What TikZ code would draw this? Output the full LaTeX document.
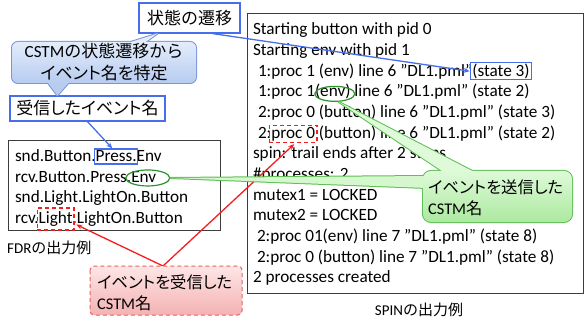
\documentclass[tikz,border=0pt]{standalone}
\usepackage{fontspec}
\setmainfont{Carlito}
\newfontfamily\jp[RawFeature=+palt]{Noto Sans CJK JP}
\newfontfamily\jpf{Noto Sans CJK JP}
\usetikzlibrary{arrows.meta,calc,fit,shapes.geometric}
\pgfdeclarelayer{cbg}
\pgfdeclarelayer{ctop}
\pgfsetlayers{main,cbg,ctop}
\definecolor{bline}{RGB}{70,110,235}
\definecolor{bcB}{RGB}{120,150,215}
\definecolor{bcT}{RGB}{226,236,251}
\definecolor{bcBot}{RGB}{184,204,240}
\definecolor{gline}{RGB}{45,145,45}
\definecolor{gcB}{RGB}{95,190,85}
\definecolor{gcT}{RGB}{222,250,216}
\definecolor{gcBot}{RGB}{172,233,160}
\definecolor{rline}{RGB}{245,30,30}
\definecolor{rcB}{RGB}{225,100,100}
\definecolor{rcT}{RGB}{253,230,230}
\definecolor{rcBot}{RGB}{245,178,178}
\definecolor{frame}{RGB}{60,60,60}
\begin{document}
\begin{tikzpicture}[x=1pt,y=-1pt,
  txt/.style={font=\fontsize{17.2}{20.65}\selectfont, inner sep=0pt, outer sep=0pt, anchor=base west},
  jbox/.style={draw=bline, line width=1.2pt, fill=white, font=\fontsize{17}{20}\selectfont, inner sep=0pt},
  frm/.style={draw=frame, line width=0.8pt, inner sep=0pt},
  geo/.style={inner sep=0pt, outer sep=0pt},
  bhl/.style={draw=bline, line width=1.3pt},
  gell/.style={ellipse, draw=gline, line width=1.2pt, inner sep=0pt},
  rhl/.style={draw=rline, line width=1.3pt, dash pattern=on 4pt off 3pt},
  barrow/.style={draw=bline, line width=1.3pt, -{Stealth[length=6pt,width=5pt]}},
  rarrow/.style={draw=rline, line width=1.3pt, -{Stealth[length=6pt,width=5pt]}},
  ctext/.style={font=\fontsize{16.3}{21}\selectfont, inner sep=0pt, align=left},
  lbl/.style={font=\fontsize{15}{18}\selectfont, inner sep=0pt}
]
\useasboundingbox (0,0) rectangle (585,320);

% frames
\node[frm, minimum width=212pt, minimum height=90pt] (fdr) at (114,185) {};
\node[frm, minimum width=336pt, minimum height=280pt] (spin) at (415,153) {};

% labelled boxes
\node[jbox, minimum width=101pt, minimum height=30pt] (stbox) at (189.5,18) {\jpf 状態の遷移};
\node[jbox, minimum width=155pt, minimum height=25pt] (rbox) at (87.5,108.5) {\jp 受信したイベント名};

% FDR text
\node[txt] (f1a) at (15,162) {snd.Button.};
\node[txt] (f1b) at (f1a.base east) {Press.};
\node[txt] (f1c) at (f1b.base east) {Env};
\node[txt] (f2a) at (15,182.5) {rcv.Button.Press.};
\node[txt] (f2b) at (f2a.base east) {Env};
\node[txt] (f3) at (15,203) {snd.Light.LightOn.Button};
\node[txt] (f4a) at (15,223.5) {rcv.};
\node[txt] (f4b) at (f4a.base east) {Light};
\node[txt] (f4c) at (f4b.base east) {.LightOn.Button};

% SPIN text
\node[txt] (s0) at (253,35) {Starting button with pid 0};
\node[txt] (s1) at (253,55.65) {Starting env with pid 1};
\node[txt] (s2a) at (258,76.3) {1:proc 1 (env) line 6 ”DL1.pml"\ };
\node[txt] (s2b) at (s2a.base east) {(state 3)};
\node[txt] (s3a) at (258,96.95) {1:proc 1\ };
\node[txt] (s3b) at (s3a.base east) {(env)};
\node[txt] (s3c) at (s3b.base east) {\ line 6 ”DL1.pml" (state 2)};
\node[txt] (s4) at (258,117.6) {2:proc 0 (button) line 6 ”DL1.pml" (state 3)};
\node[txt] (s5a) at (258,138.25) {2:};
\node[txt] (s5b) at (s5a.base east) {proc 0};
\node[txt] (s5c) at (s5b.base east) {\ (button) line 6 ”DL1.pml" (state 2)};
\node[txt] (s6) at (253,158.9) {spin: trail ends after 2 steps};
\node[txt] (s7) at (253,179.55) {\#processes: 2};
\node[txt] (s8) at (253,200.2) {mutex1 = LOCKED};
\node[txt] (s9) at (253,220.85) {mutex2 = LOCKED};
\node[txt] (s10) at (257,241.5) {2:proc 01(env) line 7 ”DL1.pml" (state 8)};
\node[txt] (s11) at (257,262.15) {2:proc 0 (button) line 7 ”DL1.pml" (state 8)};
\node[txt] (s12) at (253,282.8) {2 processes created};

% captions
\node[lbl, anchor=west] (fdrl) at (7,248) {FDR{\jpf の出力例}};
\node[lbl] (spinl) at (419,309.5) {SPIN{\jpf の出力例}};

% highlights
\node[bhl, fit=(f1b), inner xsep=1pt, inner ysep=2pt] (hpress) {};
\node[gell, minimum width=44pt, minimum height=16pt] (hfenv) at ($(f2b.center)+(4,1)$) {};
\node[rhl, fit=(f4b), inner xsep=1.5pt, inner ysep=3.5pt] (hlight) {};
\node[bhl, fit=(s2b), inner xsep=2pt, inner ysep=1pt] (hst3) {};
\node[gell, minimum width=40pt, minimum height=15pt] (hsenv) at ($(s3b.center)+(2,2)$) {};
\node[rhl, fit=(s5b), inner xsep=2pt, inner ysep=1.5pt] (hproc) {};

% callout geometry
\node[geo, minimum width=184pt, minimum height=41pt] (bc) at (104,62.5) {};
\node[geo, minimum width=149pt, minimum height=51pt] (gc) at (497.5,196.5) {};
\node[geo, minimum width=152pt, minimum height=49pt] (rc) at (166,290.5) {};

% arrows
\draw[barrow] ($(stbox.south east)+(-28,0)$) -- (hst3.west);
\draw[barrow] (rbox.south) -- ($(hpress.north)+(-4,0)$);
\draw[rarrow] ($(rc.north)+(-3,0)$) -- ($(hlight.south east)+(1.5,-6)$);
\draw[rarrow] ($(rc.north)+(-3,0)$) -- ($(hproc.south)+(1,1)$);

% callout bodies
\begin{pgfonlayer}{cbg}
  % blue callout
  \draw[draw=bcB, line width=2pt, rounded corners=6pt] (bc.north west) rectangle (bc.south east);
  \draw[draw=bcB, line width=2pt, line join=round] ($(bc.north west)+(106,4)$) -- ($(stbox.south west)+(19,0)$) -- ($(bc.north west)+(128,4)$) -- cycle;
  \draw[draw=bcB, line width=2pt, line join=round] ($(bc.south west)+(33,-4)$) -- ($(rbox.north west)+(48,0)$) -- ($(bc.south west)+(60,-4)$) -- cycle;
  \fill[bcT] ($(bc.north west)+(106,4)$) -- ($(stbox.south west)+(19,0)$) -- ($(bc.north west)+(128,4)$) -- cycle;
  \fill[bcBot] ($(bc.south west)+(33,-4)$) -- ($(rbox.north west)+(48,0)$) -- ($(bc.south west)+(60,-4)$) -- cycle;
  \shade[top color=bcT, bottom color=bcBot, rounded corners=6pt] (bc.north west) rectangle (bc.south east);
  % green callout
  \draw[draw=gcB, line width=2pt, rounded corners=8pt] (gc.north west) rectangle (gc.south east);
  \draw[draw=gcB, line width=2pt, line join=round] ($(gc.north west)+(25,4)$) -- ($(hsenv.south)+(4,0)$) -- ($(gc.north west)+(57,4)$) -- cycle;
  \draw[draw=gcB, line width=2pt, line join=round] ($(gc.north west)+(4,5)$) -- (hfenv.east) -- ($(gc.north west)+(4,17)$) -- cycle;
  \fill[gcT] ($(gc.north west)+(25,4)$) -- ($(hsenv.south)+(4,0)$) -- ($(gc.north west)+(57,4)$) -- cycle;
  \fill[gcT!80!gcBot] ($(gc.north west)+(4,5)$) -- (hfenv.east) -- ($(gc.north west)+(4,17)$) -- cycle;
  \shade[top color=gcT, bottom color=gcBot, rounded corners=8pt] (gc.north west) rectangle (gc.south east);
  % red callout
  \shade[top color=rcT, bottom color=rcBot, rounded corners=4pt] (rc.north west) rectangle (rc.south east);
  \draw[draw=rcB, line width=1pt, dash pattern=on 4pt off 3pt, rounded corners=4pt] (rc.north west) rectangle (rc.south east);
\end{pgfonlayer}

\begin{pgfonlayer}{ctop}
  \node[ctext, align=center, font=\fontsize{17}{22}\selectfont] (bct) at (bc.center) {CSTM{\jpf の状態遷移から}\\{\jp イベント名を特定}};
  \node[ctext, anchor=west] (gct) at ($(gc.west)+(5,1)$) {{\jp イベントを送信した}\\CSTM{\jp 名}};
  \node[ctext, anchor=west] (rct) at ($(rc.west)+(7,2)$) {{\jp イベントを受信した}\\CSTM{\jp 名}};
\end{pgfonlayer}
\end{tikzpicture}
\end{document}
